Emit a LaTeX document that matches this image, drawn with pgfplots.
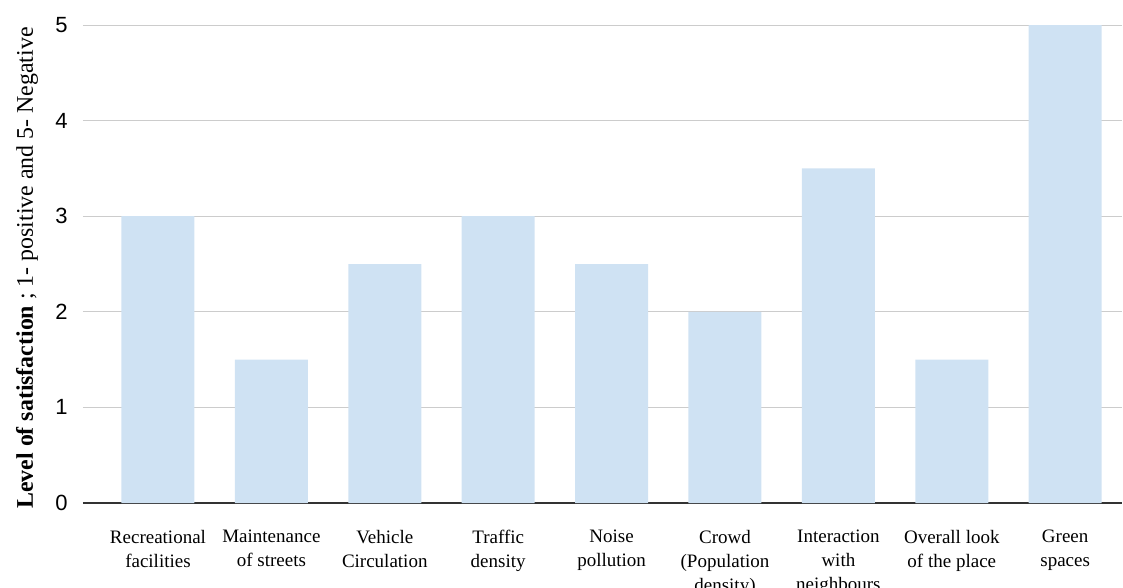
\documentclass[border=0pt]{standalone}
\usepackage{fontspec}
\setmainfont{Liberation Serif}
\newfontfamily\ticksfont{Liberation Sans}
\usepackage{pgfplots}
\pgfplotsset{compat=1.18}
\definecolor{barblue}{HTML}{CFE2F3}
\definecolor{gridgray}{HTML}{CCCCCC}
\definecolor{zeroline}{HTML}{333333}
\begin{document}
\begin{tikzpicture}
\path[use as bounding box] (-62.25pt,-63pt) rectangle (780pt,377.25pt);
\begin{axis}[
  at={(0,0)}, anchor=south west,
  scale only axis,
  width=779.25pt, height=358.5pt,
  ybar, bar width=54.75pt,
  ymin=0, ymax=5,
  xmin=-0.661, xmax=8.501,
  ytick={1,2,3,4,5},
  extra y ticks={0},
  extra y tick style={grid style={zeroline, line width=1.1pt}},
  xtick=data,
  xticklabels={{Recreational\\facilities},{Maintenance\\of streets},{Vehicle\\Circulation},{Traffic\\density},{Noise\\pollution},{Crowd\\(Population\\density)},{Interaction\\with\\neighbours},{Overall look\\of the place},{Green\\spaces}},
  xticklabel style={font=\fontsize{14.25}{18}\selectfont, align=center, anchor=north, inner sep=0pt, yshift=-20pt},
  yticklabel style={font=\fontsize{16.5}{18}\selectfont\ticksfont, anchor=east, inner sep=0pt, xshift=-11.25pt},
  /pgf/number format/assume math mode=true,
  major tick length=0pt,
  ymajorgrids,
  grid style={gridgray, line width=0.75pt},
  axis line style={draw=none},
  every axis y label/.style={at={([xshift=-42pt,yshift=-3pt]axis description cs:0,0.5)}, rotate=90, anchor=center},
  ylabel={\fontsize{17.9}{18}\selectfont\textbf{Level of satisfaction} ; 1- positive and 5- Negative},
]
\addplot[fill=barblue, draw=none] coordinates {
  (0,3) (1,1.5) (2,2.5) (3,3) (4,2.5) (5,2) (6,3.5) (7,1.5) (8,5)
};
\end{axis}
\end{tikzpicture}
\end{document}
